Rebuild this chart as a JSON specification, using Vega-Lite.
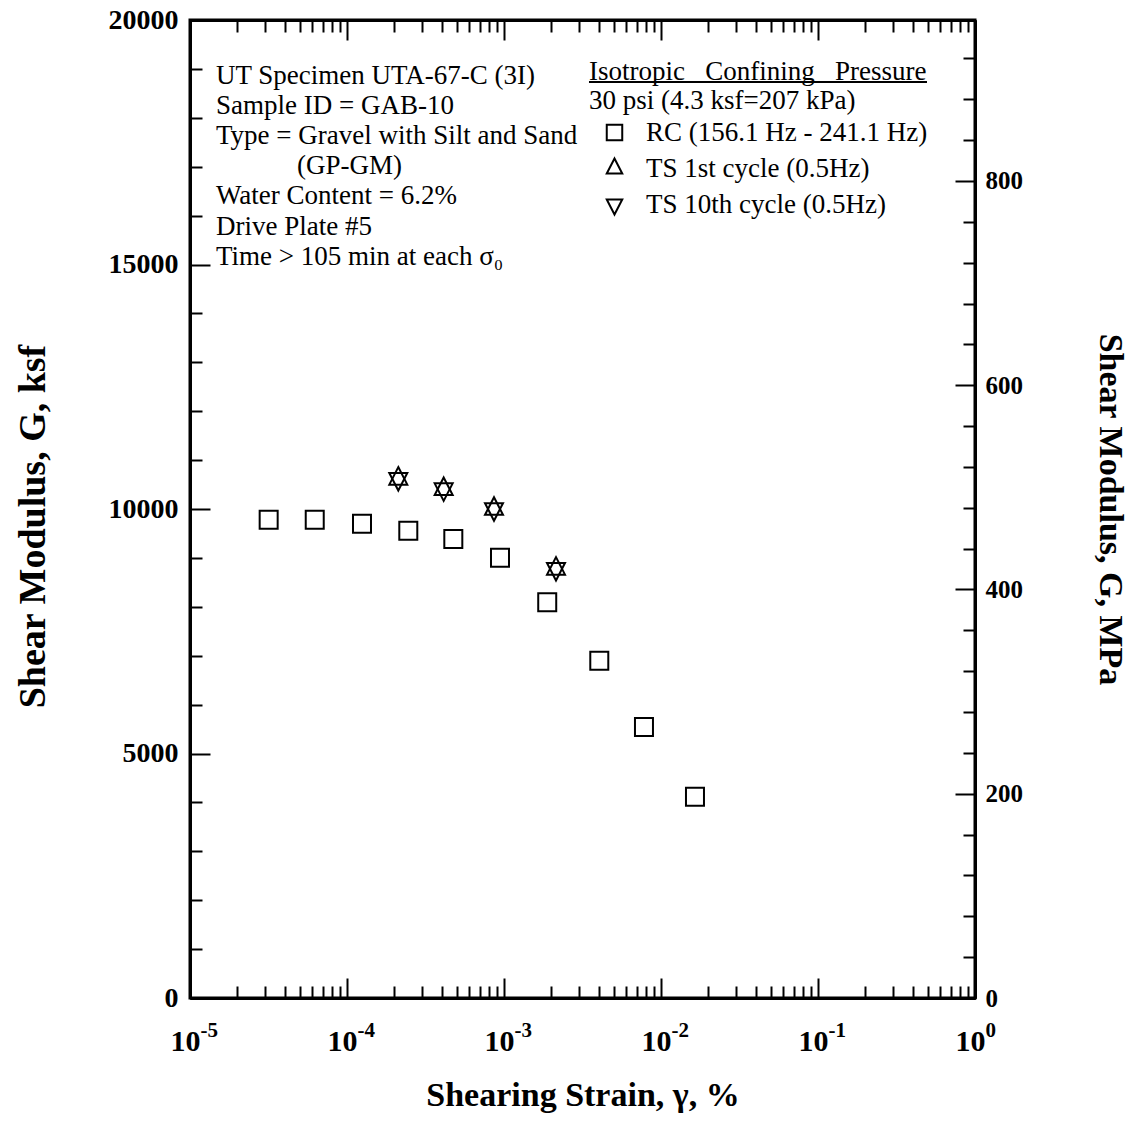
{
  "$schema": "https://vega.github.io/schema/vega-lite/v6.json",
  "width": 785,
  "height": 978,
  "autosize": {"type": "none"},
  "padding": {"left": 190, "top": 20, "right": 155, "bottom": 124},
  "background": "white",
  "config": {
    "font": "Liberation Serif",
    "view": {"stroke": "black", "strokeWidth": 3},
    "axis": {
      "domainColor": "black", "domainWidth": 3,
      "tickColor": "black", "tickWidth": 2,
      "labelColor": "black", "labelFont": "Liberation Serif", "labelFontWeight": "bold", "labelFontSize": 28,
      "titleColor": "black", "titleFont": "Liberation Serif", "titleFontWeight": "bold", "titleFontSize": 34,
      "grid": false, "labelFlush": false, "labelOverlap": false, "labelBound": false
    }
  },
  "datasets": {
    "points": [
      {"strain": 3.17e-5, "G": 9781, "test": "RC (156.1 Hz - 241.1 Hz)"},
      {"strain": 6.23e-5, "G": 9781, "test": "RC (156.1 Hz - 241.1 Hz)"},
      {"strain": 1.246e-4, "G": 9697, "test": "RC (156.1 Hz - 241.1 Hz)"},
      {"strain": 2.457e-4, "G": 9554, "test": "RC (156.1 Hz - 241.1 Hz)"},
      {"strain": 4.755e-4, "G": 9387, "test": "RC (156.1 Hz - 241.1 Hz)"},
      {"strain": 9.43e-4, "G": 9004, "test": "RC (156.1 Hz - 241.1 Hz)"},
      {"strain": 1.885e-3, "G": 8094, "test": "RC (156.1 Hz - 241.1 Hz)"},
      {"strain": 4.045e-3, "G": 6898, "test": "RC (156.1 Hz - 241.1 Hz)"},
      {"strain": 7.79e-3, "G": 5542, "test": "RC (156.1 Hz - 241.1 Hz)"},
      {"strain": 1.646e-2, "G": 4117, "test": "RC (156.1 Hz - 241.1 Hz)"},
      {"strain": 2.122e-4, "G": 10618, "test": "TS 1st cycle (0.5Hz)"},
      {"strain": 4.128e-4, "G": 10405, "test": "TS 1st cycle (0.5Hz)"},
      {"strain": 8.636e-4, "G": 10000, "test": "TS 1st cycle (0.5Hz)"},
      {"strain": 2.144e-3, "G": 8777, "test": "TS 1st cycle (0.5Hz)"},
      {"strain": 2.122e-4, "G": 10618, "test": "TS 10th cycle (0.5Hz)"},
      {"strain": 4.128e-4, "G": 10405, "test": "TS 10th cycle (0.5Hz)"},
      {"strain": 8.636e-4, "G": 10000, "test": "TS 10th cycle (0.5Hz)"},
      {"strain": 2.144e-3, "G": 8777, "test": "TS 10th cycle (0.5Hz)"}
    ]
  },
  "resolve": {
    "scale": {"x": "independent", "y": "independent"},
    "axis": {"x": "independent", "y": "independent"}
  },
  "layer": [
    {
      "data": {"name": "points"},
      "mark": {"type": "point", "filled": false, "color": "black", "strokeWidth": 2, "size": 324, "opacity": 1},
      "encoding": {
        "x": {
          "field": "strain", "type": "quantitative",
          "scale": {"type": "log", "domain": [1e-5, 1]},
          "axis": {
            "orient": "bottom", "values": [1e-5, 1e-4, 1e-3, 1e-2, 1e-1, 1],
            "tickSize": -20, "labelPadding": 48, "labelFontSize": 30, "labelOffset": -5,
            "labelExpr": "'10'",
            "title": "Shearing Strain, γ, %", "titlePadding": 22
          }
        },
        "y": {
          "field": "G", "type": "quantitative",
          "scale": {"domain": [0, 20000]},
          "axis": {
            "orient": "left", "values": [0, 5000, 10000, 15000, 20000], "format": "d",
            "tickSize": -20, "labelPadding": 32,
            "title": "Shear Modulus, G, ksf", "titlePadding": 56, "titleFontSize": 38, "titleY": 506
          }
        },
        "shape": {
          "field": "test", "type": "nominal",
          "scale": {
            "domain": ["RC (156.1 Hz - 241.1 Hz)", "TS 1st cycle (0.5Hz)", "TS 10th cycle (0.5Hz)"],
            "range": ["square", "M0,-1.3L1,0.65L-1,0.65Z", "M0,1.3L1,-0.65L-1,-0.65Z"]
          },
          "legend": {
            "orient": "none", "legendX": 399, "legendY": 39, "padding": 0,
            "title": ["Isotropic\u00a0\u00a0 Confining\u00a0\u00a0 Pressure", "30 psi (4.3 ksf=207 kPa)"],
            "titleFont": "Liberation Serif", "titleFontSize": 27, "titleFontWeight": "normal", "titleColor": "black",
            "titleLineHeight": 29, "titlePadding": 4, "titleAnchor": "start", "titleLimit": 500,
            "labelFont": "Liberation Serif", "labelFontSize": 27, "labelColor": "black", "labelLimit": 500,
            "labelOffset": 18, "symbolOffset": 12, "symbolSize": 240, "symbolStrokeWidth": 2,
            "symbolStrokeColor": "black", "symbolFillColor": "transparent", "rowPadding": 8
          }
        }
      }
    },
    {
      "data": {"values": [{}]},
      "mark": {
        "type": "text", "font": "Liberation Serif", "fontSize": 27, "align": "left", "baseline": "top",
        "lineHeight": 30.2, "color": "black",
        "text": [
          "UT Specimen UTA-67-C (3I)",
          "Sample ID = GAB-10",
          "Type = Gravel with Silt and Sand",
          "\u200b\u00a0\u00a0\u00a0\u00a0\u00a0\u00a0\u00a0\u00a0\u00a0\u00a0\u00a0\u00a0(GP-GM)",
          "Water Content = 6.2%",
          "Drive Plate #5",
          "Time > 105 min at each σ₀"
        ]
      },
      "encoding": {
        "x": {
          "datum": 1.464e-5, "type": "quantitative",
          "scale": {"type": "log", "domain": [1e-5, 1]},
          "axis": {
            "orient": "bottom", "labels": false, "title": null, "tickSize": -12,
            "values": [2e-5, 3e-5, 4e-5, 5e-5, 6e-5, 7e-5, 8e-5, 9e-5,
                       2e-4, 3e-4, 4e-4, 5e-4, 6e-4, 7e-4, 8e-4, 9e-4,
                       2e-3, 3e-3, 4e-3, 5e-3, 6e-3, 7e-3, 8e-3, 9e-3,
                       2e-2, 3e-2, 4e-2, 5e-2, 6e-2, 7e-2, 8e-2, 9e-2,
                       2e-1, 3e-1, 4e-1, 5e-1, 6e-1, 7e-1, 8e-1, 9e-1]
          }
        },
        "y": {
          "datum": 19127, "type": "quantitative",
          "scale": {"domain": [0, 20000]},
          "axis": {
            "orient": "left", "labels": false, "title": null, "tickSize": -12,
            "values": [1000, 2000, 3000, 4000, 6000, 7000, 8000, 9000, 11000, 12000, 13000, 14000, 16000, 17000, 18000, 19000]
          }
        }
      }
    },
    {
      "data": {"values": [{}]},
      "mark": {"type": "rule", "color": "black", "strokeWidth": 2},
      "encoding": {
        "x": {
          "datum": 3.478e-3, "type": "quantitative",
          "scale": {"type": "log", "domain": [1e-5, 1]},
          "axis": {"orient": "top", "labels": false, "title": null, "tickSize": -20,
                   "values": [1e-5, 1e-4, 1e-3, 1e-2, 1e-1, 1]}
        },
        "x2": {"datum": 0.4946},
        "y": {
          "datum": 18732, "type": "quantitative",
          "scale": {"domain": [0, 20000]},
          "axis": null
        }
      }
    },
    {
      "data": {"values": [{}]},
      "mark": {"type": "text", "text": ""},
      "encoding": {
        "x": {
          "datum": 1e-5, "type": "quantitative",
          "scale": {"type": "log", "domain": [1e-5, 1]},
          "axis": {
            "orient": "top", "labels": false, "title": null, "tickSize": -12,
            "values": [2e-5, 3e-5, 4e-5, 5e-5, 6e-5, 7e-5, 8e-5, 9e-5,
                       2e-4, 3e-4, 4e-4, 5e-4, 6e-4, 7e-4, 8e-4, 9e-4,
                       2e-3, 3e-3, 4e-3, 5e-3, 6e-3, 7e-3, 8e-3, 9e-3,
                       2e-2, 3e-2, 4e-2, 5e-2, 6e-2, 7e-2, 8e-2, 9e-2,
                       2e-1, 3e-1, 4e-1, 5e-1, 6e-1, 7e-1, 8e-1, 9e-1]
          }
        },
        "y": {
          "datum": 0, "type": "quantitative",
          "scale": {"domain": [0, 957.63]},
          "axis": {
            "orient": "right", "values": [0, 200, 400, 600, 800], "format": "d",
            "tickSize": -20, "labelPadding": 30, "labelFontSize": 25,
            "title": "Shear Modulus, G, MPa", "titlePadding": 70, "titleFontSize": 34
          }
        }
      }
    },
    {
      "data": {"values": [{}]},
      "mark": {"type": "text", "text": ""},
      "encoding": {
        "x": {
          "datum": 1e-5, "type": "quantitative",
          "scale": {"type": "log", "domain": [1e-5, 1]},
          "axis": {
            "orient": "bottom", "values": [1e-5, 1e-4, 1e-3, 1e-2, 1e-1, 1],
            "ticks": false, "tickSize": 0, "domain": false, "title": null,
            "labelPadding": 21, "labelFontSize": 21, "labelAlign": "left", "labelOffset": 10,
            "labelExpr": "datum.value < 5e-5 ? '-5' : datum.value < 5e-4 ? '-4' : datum.value < 5e-3 ? '-3' : datum.value < 5e-2 ? '-2' : datum.value < 0.5 ? '-1' : '0'"
          }
        },
        "y": {
          "datum": 0, "type": "quantitative",
          "scale": {"domain": [0, 957.63]},
          "axis": {
            "orient": "right", "labels": false, "title": null, "tickSize": -12,
            "values": [40, 80, 120, 160, 240, 280, 320, 360, 440, 480, 520, 560, 640, 680, 720, 760, 840, 880, 920]
          }
        }
      }
    }
  ]
}
